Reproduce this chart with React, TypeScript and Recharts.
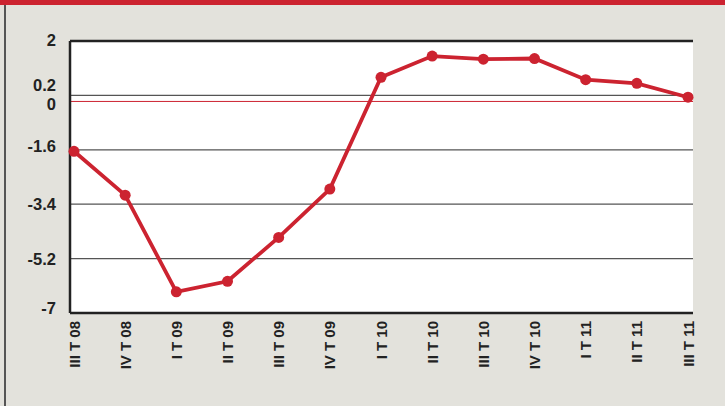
import React from "react";
import { LineChart, Line, XAxis, YAxis, CartesianGrid, ReferenceLine } from "recharts";

// trimestri
const quarters = [
  "III T 08", "IV T 08", "I T 09", "II T 09", "III T 09", "IV T 09",
  "I T 10", "II T 10", "III T 10", "IV T 10", "I T 11", "II T 11", "III T 11",
];
const growth = [-1.65, -3.1, -6.3, -5.95, -4.5, -2.9, 0.8, 1.5, 1.4, 1.42, 0.72, 0.6, 0.14];
const yTicks = [-7, -5.2, -3.4, -1.6, 0, 0.2, 2];
const gridValues = [-5.2, -3.4, -1.6, 0.2];

const RED = "#cc2330";
const BG = "#e3e2dc";
const INK = "#222";
const FONT = "'Liberation Sans', Arial, sans-serif";

const data = quarters.map((q, i) => ({ q, v: growth[i] }));

// piccoli spostamenti verticali delle etichette, come nell'originale
const labelShift: Record<string, number> = { "2": -1, "0.2": -10, "0": 3, "-1.6": -4, "-7": -5 };

const YTick = (props: any) => {
  const { x, y, payload } = props;
  const dy = labelShift[String(payload.value)] ?? 0;
  return (
    <text x={x} y={y + dy} textAnchor="end" dominantBaseline="central"
      style={{ fontFamily: FONT, fontSize: 16.5, fontWeight: 700, fill: INK }}>
      {payload.value}
    </text>
  );
};

const XTick = (props: any) => {
  const { x, y, payload } = props;
  return (
    <text x={x} y={y} transform={`rotate(-90, ${x}, ${y})`} textAnchor="end" dominantBaseline="central"
      style={{ fontFamily: FONT, fontSize: 15, fontWeight: 700, fill: INK }}>
      {payload.value}
    </text>
  );
};

export default function App() {
  return (
    <div style={{ position: "absolute", left: 0, top: 0, width: 725, height: 406, background: BG, overflow: "hidden" }}>
      <div style={{ position: "absolute", left: 0, top: 0, width: 725, height: 5, background: RED }} />
      <div style={{ position: "absolute", left: 4, top: 5, width: 2, height: 401, background: "#555" }} />
      <div style={{ position: "absolute", left: 0, top: 0 }}>
        <LineChart width={725} height={406} data={data} margin={{ top: 41, right: 32, bottom: 0, left: 0 }}>
          <CartesianGrid horizontal={false} vertical={false} fill="#fff" />
          {gridValues.map((g) => (
            <ReferenceLine key={g} y={g} stroke="#555" strokeWidth={1.2} />
          ))}
          <ReferenceLine y={0} stroke={RED} strokeWidth={1} />
          <ReferenceLine y={2} stroke={INK} strokeWidth={2.5} />
          <ReferenceLine y={-7} stroke={INK} strokeWidth={2.5} />
          <XAxis dataKey="q" interval={0} height={93} padding={{ left: 4, right: 5 }}
            axisLine={false} tickLine={false} tickSize={0} tickMargin={8} tick={<XTick />} />
          <YAxis type="number" domain={[-7, 2]} ticks={yTicks} width={70} interval={0}
            axisLine={{ stroke: INK, strokeWidth: 2.5 }} tickLine={false} tickSize={0} tickMargin={14} tick={<YTick />} />
          <YAxis yAxisId="right" orientation="right" type="number" domain={[-7, 2]} width={0}
            axisLine={{ stroke: INK, strokeWidth: 2.5 }} tickLine={false} tick={false} />
          <Line dataKey="v" type="linear" stroke={RED} strokeWidth={3.8}
            dot={{ r: 5.5, fill: RED, stroke: RED, strokeWidth: 0 }} activeDot={false}
            isAnimationActive={false} />
        </LineChart>
      </div>
    </div>
  );
}
